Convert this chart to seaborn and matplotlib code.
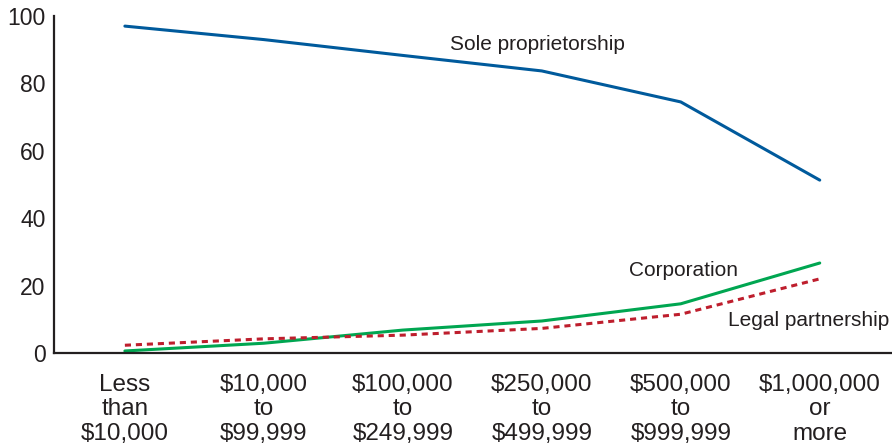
import pandas as pd
import seaborn as sns
import matplotlib.pyplot as plt

categories = ["Less\nthan\n$10,000", "$10,000\nto\n$99,999", "$100,000\nto\n$249,999",
              "$250,000\nto\n$499,999", "$500,000\nto\n$999,999", "$1,000,000\nor\nmore"]
sole = [97.0, 93.0, 88.3, 83.7, 74.5, 51.3]
corporation = [0.6, 2.9, 6.8, 9.5, 14.6, 26.7]
partnership = [2.3, 4.2, 5.3, 7.3, 11.5, 22.0]

rows = []
for name, vals in [("Sole proprietorship", sole), ("Corporation", corporation),
                   ("Legal partnership", partnership)]:
    for i, v in enumerate(vals):
        rows.append({"pos": i, "pct": v, "form": name})
df = pd.DataFrame(rows)

sns.set_style("white")
plt.rcParams['font.family'] = ['Liberation Sans', 'DejaVu Sans']
txt = "#231f20"

fig = plt.figure(figsize=(8.92, 4.43), dpi=100)
ax = fig.add_axes([54 / 892, 90 / 443, 838 / 892, 337 / 443])

palette = {"Sole proprietorship": "#005a9c", "Corporation": "#00a651", "Legal partnership": "#be1e2d"}
dashes = {"Sole proprietorship": "", "Corporation": "", "Legal partnership": (2, 1.6)}
sns.lineplot(data=df, x="pos", y="pct", hue="form", style="form", palette=palette,
             dashes=dashes, linewidth=2.2, legend=False, ax=ax)

ax.set_xlim(-0.51, 5.52)
ax.set_ylim(0, 100)
ax.set_yticks([0, 20, 40, 60, 80, 100])
ax.set_xticks(range(len(categories)))
ax.set_xticklabels(categories, linespacing=1.14)
ax.set_xlabel("")
ax.set_ylabel("")
for s in ["top", "right"]:
    ax.spines[s].set_visible(False)
for s in ["left", "bottom"]:
    ax.spines[s].set_color(txt)
    ax.spines[s].set_linewidth(1.6)
ax.spines["left"].set_bounds(0, 100)
ax.tick_params(axis="both", direction="out", length=5, width=1, color="#555555",
               labelcolor=txt)
ax.tick_params(axis="y", pad=1, labelsize=16.5)
ax.tick_params(axis="x", pad=8, length=7, labelsize=17.5)

ax.text(2.34, 91.4, "Sole proprietorship", fontsize=15, color=txt, ha="left", va="center")
ax.text(3.63, 24.6, "Corporation", fontsize=15, color=txt, ha="left", va="center")
ax.text(4.34, 9.5, "Legal partnership", fontsize=15, color=txt, ha="left", va="center")

fig.savefig("out.png", dpi=100)
